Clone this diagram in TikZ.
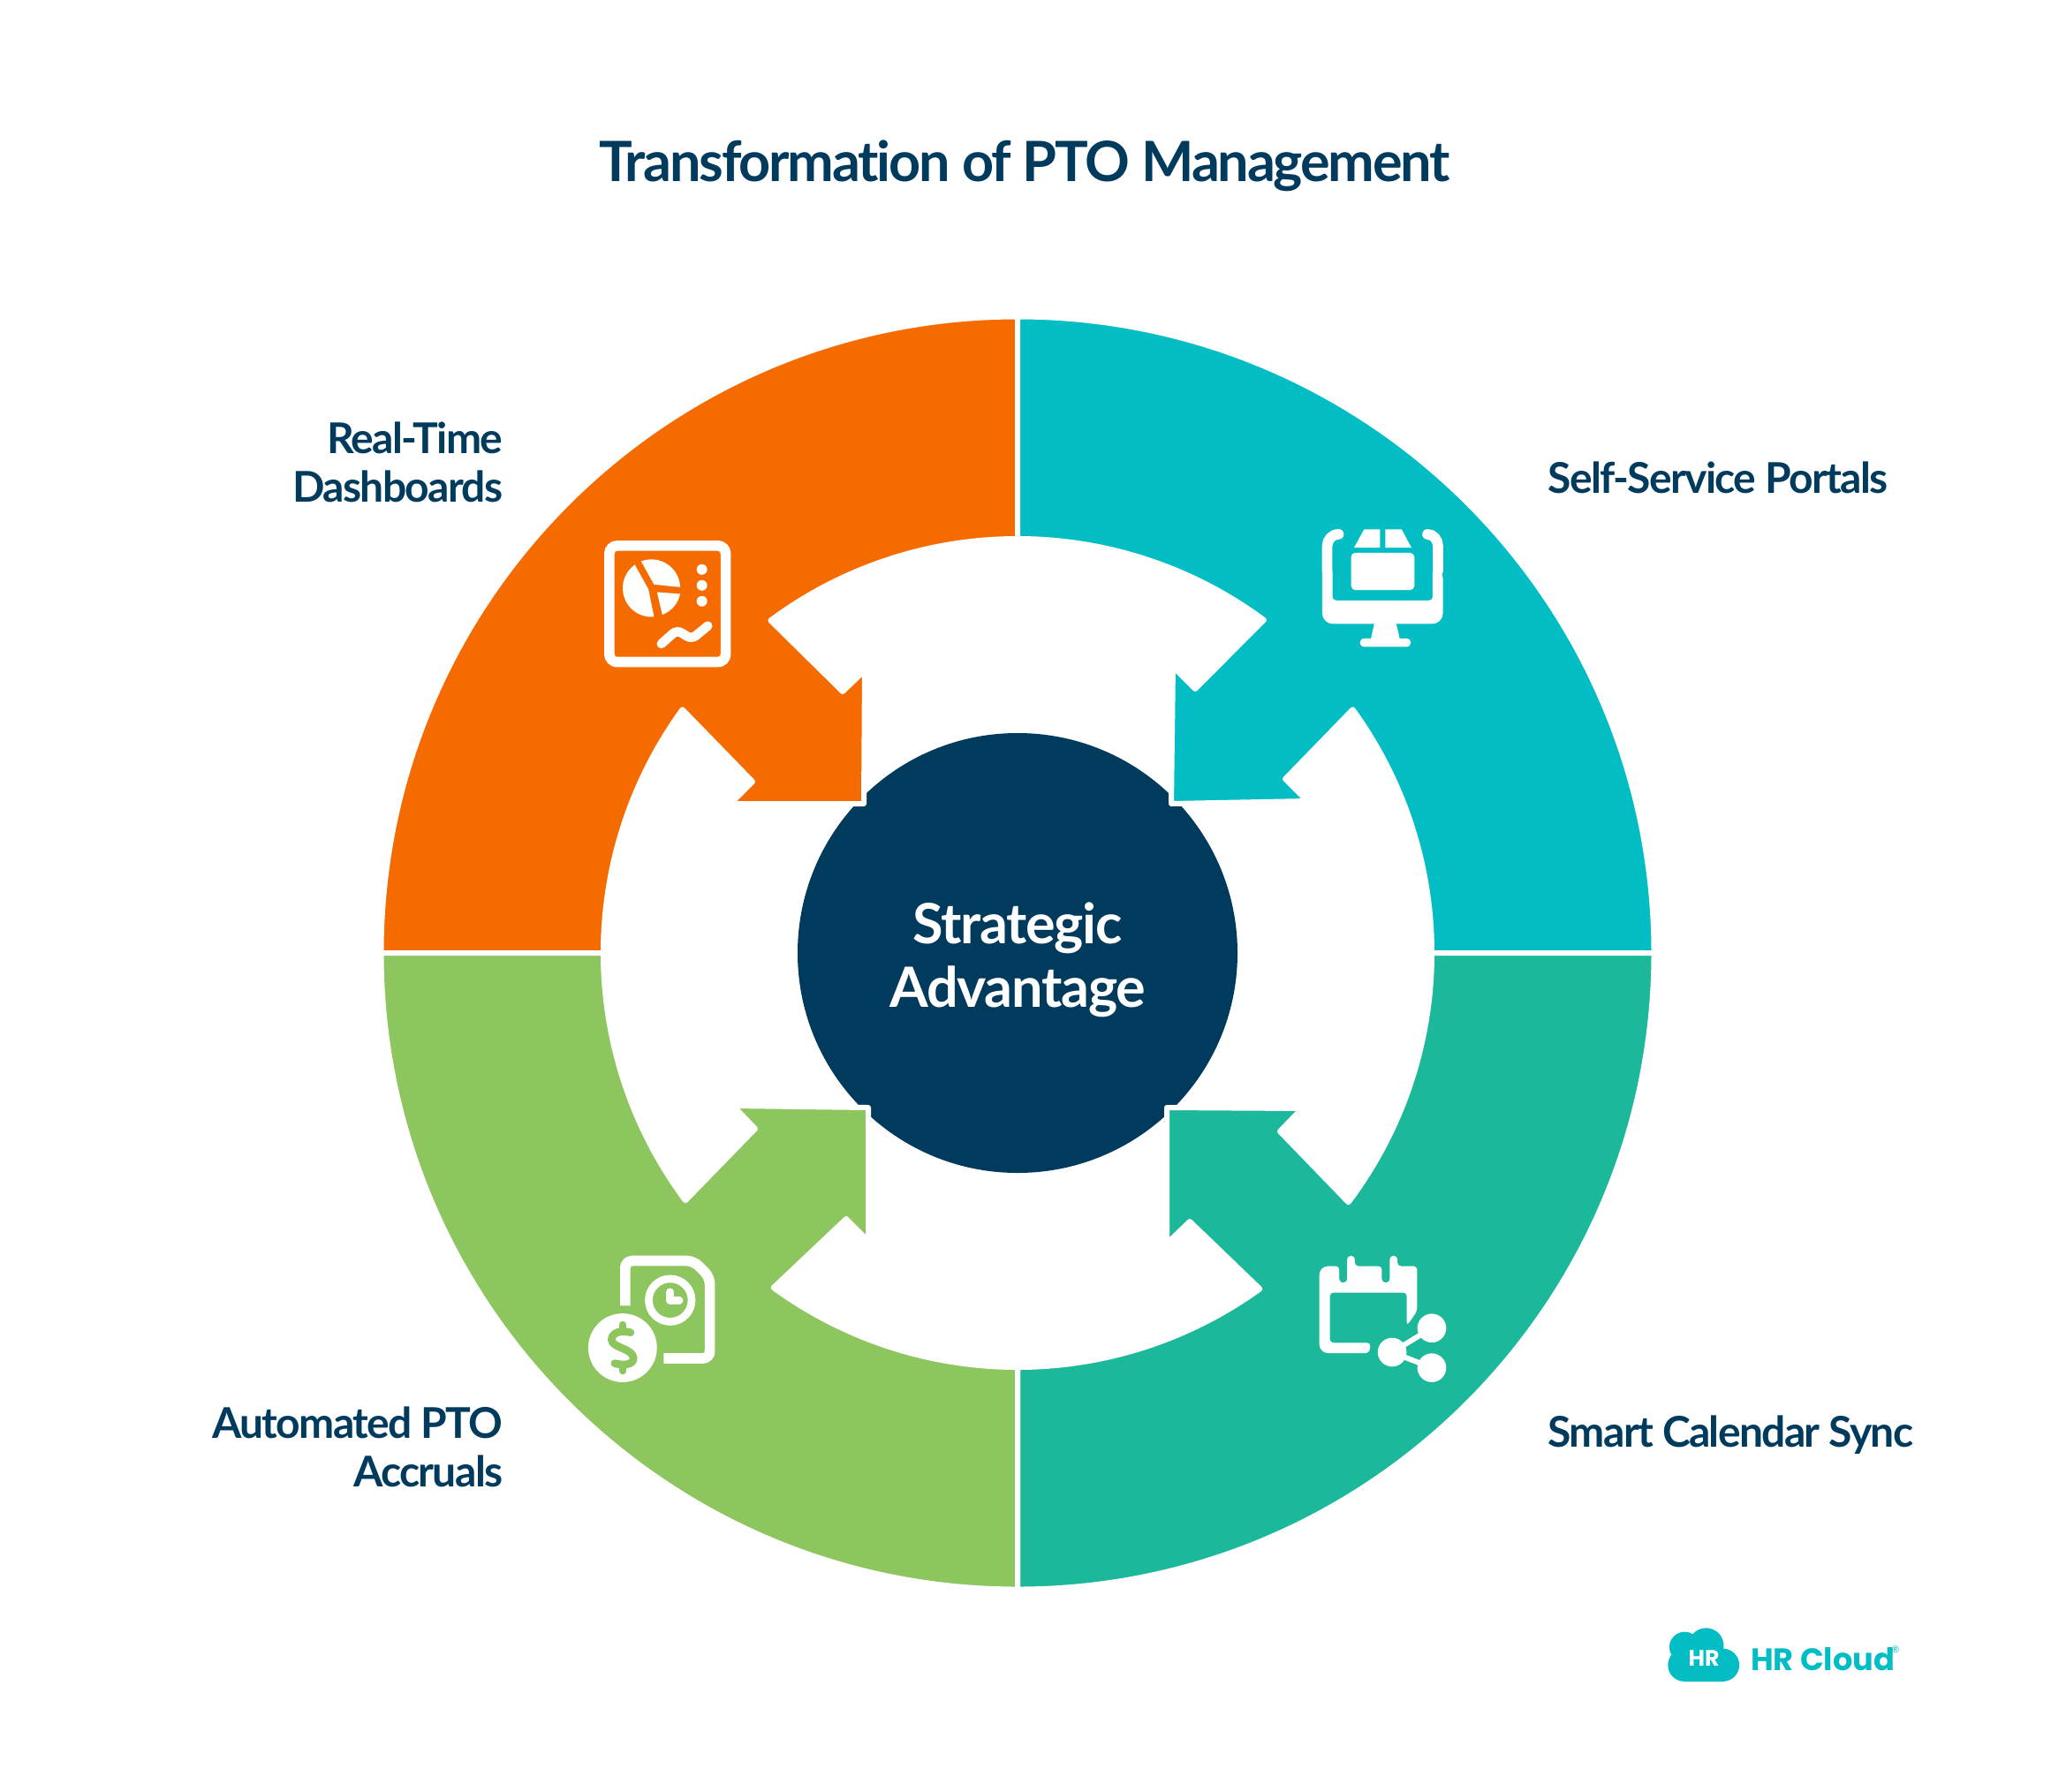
\documentclass[tikz,border=0pt]{standalone}
\usepackage{fontspec}
\setmainfont{Lato}[LetterSpace=-3.5, Ligatures=CommonOff]
\newfontfamily\hubfont{Lato}[LetterSpace=-2, Ligatures=CommonOff]
\newfontfamily\logofont{Poppins}
\usepackage{xcolor}
\definecolor{navy}{HTML}{003A5D}
\definecolor{pumpkin}{HTML}{F66B00}
\definecolor{lagoon}{HTML}{02BEC4}
\definecolor{jade}{HTML}{1CB89C}
\definecolor{leaf}{HTML}{8DC55F}
\tikzset{
    quadrant/.style={draw=white, line width=0.6mm, line join=round},
    labeltext/.style={text=navy, inner sep=0pt, font=\fontsize{13.65}{15.6}\selectfont\bfseries},
    zoomgrid/.style={x=0.003333cm, y=-0.003333cm},
    iconline/.style={draw=white, line width=1.17mm},
}
\begin{document}
\begin{tikzpicture}
    \useasboundingbox (-11.52,-9.49) rectangle (11.70,10.79);

    \node[circle, fill=navy, minimum size=4.98cm, inner sep=0pt] (hub) at (0,0) {};
    \node[text=white, inner sep=0pt, align=center,
        font=\hubfont\fontsize{17.9}{20.5}\selectfont\bfseries] (hubtext) at (0,-0.08) {Strategic\\Advantage};

    % dashboards quadrant
    \fill[pumpkin, quadrant] (90:4.69) arc[start angle=90, end angle=126.6, radius=4.69]
        -- (-1.98,2.96) -- (-1.73,3.20) -- (-1.74,1.69) -- (-3.25,1.69) -- (-3.00,1.94)
        -- (144:4.69) arc[start angle=144, end angle=180, radius=4.69]
        -- (180:7.205) arc[start angle=180, end angle=90, radius=7.205] -- cycle;

    % portals quadrant
    \fill[lagoon, quadrant] (90:4.69) arc[start angle=90, end angle=53.5, radius=4.69]
        -- (2.01,2.99) -- (1.76,3.24) -- (1.74,1.69) -- (3.28,1.72) -- (3.03,1.97)
        -- (36:4.69) arc[start angle=36, end angle=0, radius=4.69]
        -- (0:7.205) arc[start angle=0, end angle=90, radius=7.205] -- cycle;

    % calendar quadrant
    \fill[jade, quadrant] (0:4.69) arc[start angle=0, end angle=-37, radius=4.69]
        -- (2.97,-2.02) -- (3.22,-1.76) -- (1.69,-1.75) -- (1.69,-3.29) -- (1.95,-3.04)
        -- (-54.2:4.69) arc[start angle=-54.2, end angle=-90, radius=4.69]
        -- (-90:7.205) arc[start angle=-90, end angle=0, radius=7.205] -- cycle;

    % accruals quadrant
    \fill[leaf, quadrant] (180:4.69) arc[start angle=180, end angle=216.7, radius=4.69]
        -- (-2.97,-1.99) -- (-3.22,-1.73) -- (-1.69,-1.75) -- (-1.69,-3.26) -- (-1.94,-3.01)
        -- (233.9:4.69) arc[start angle=233.9, end angle=270, radius=4.69]
        -- (270:7.205) arc[start angle=270, end angle=180, radius=7.205] -- cycle;

    % dashboard icon
    \begin{scope}[shift={(-5.12,5.19)}, zoomgrid]
        \draw[iconline, rounded corners=0.9mm] (150,174) rectangle (546,570);
        \fill[white] (236,238) -- (283,322) -- (302,416) arc[start angle=85, end angle=234, radius=98] -- cycle;
        \fill[white] (258,227) arc[start angle=249, end angle=358, radius=98] -- (302,306) -- cycle;
        \fill[white] (312,332) -- (391,338) arc[start angle=12, end angle=69, radius=98] -- cycle;
        \foreach \y in {255,309,363} {
            \fill[white] (465,\y) circle (18);
        }
        \draw[iconline, line width=1.05mm, line cap=round, rounded corners=0.6mm]
            (327,508) -- (380,461) -- (430,492) -- (485,447);
    \end{scope}

    % monitor icon
    \begin{scope}[shift={(1.48,5.19)}, zoomgrid]
        \draw[iconline, line cap=round] (648,135) to[out=180, in=90] (609,175) -- (609,260);
        \draw[iconline, line cap=round] (950,135) to[out=0, in=90] (986,175) -- (986,260);
        \fill[white, rounded corners=1.2mm] (592,250) -- (592,440) -- (1003,440) -- (1003,250)
            [rounded corners=0.4mm] -- (968,250) -- (968,360) -- (627,360) -- (627,250) -- cycle;
        \fill[white] (770,435) -- (757,495) -- (857,495) -- (843,435) -- cycle;
        \fill[white, rounded corners=0.4mm] (721,490) rectangle (893,518);
        \fill[white, rounded corners=0.5mm] (690,198) rectangle (906,325);
        \fill[white] (700,181) -- (735,118) -- (789,118) -- (789,181) -- cycle;
        \fill[white] (807,181) -- (807,118) -- (862,118) -- (896,181) -- cycle;
    \end{scope}

    % calendar icon
    \begin{scope}[shift={(1.48,-1.51)}, zoomgrid]
        \fill[white, rounded corners=0.4mm] (582,612) -- (650,612) -- (650,668) -- (677,668)
            -- (677,577) -- (703,577) -- (703,612) -- (795,612) -- (795,668) -- (822,668)
            -- (822,577) -- (848,577) -- (848,612) -- (915,612) -- (915,765) -- (880,815)
            -- (880,702) -- (618,702) -- (618,873) -- (757,873) -- (752,908)
            [rounded corners=1mm] -- (582,908) -- cycle;
        \fill[white] (965,823) circle (49) (830,905) circle (49) (965,958) circle (49);
        \draw[iconline, line width=0.6mm] (965,823) -- (830,905) -- (965,958);
    \end{scope}

    % accrual icon
    \begin{scope}[shift={(-5.12,-1.51)}, zoomgrid]
        \draw[iconline, rounded corners=0.8mm] (204,747) -- (204,594) -- (437,594) -- (492,650)
            -- (492,926) -- (335,926);
        \draw[iconline, line width=0.87mm] (357,728) circle (73);
        \draw[iconline, line width=0.87mm, line cap=round, line join=round]
            (357,700) -- (357,728) -- (388,728);
        \fill[white] (195,890) circle (117);
        \draw[leaf, line width=0.87mm, line cap=round]
            (222,838) .. controls (175,825) and (150,850) .. (160,870)
            .. controls (170,890) and (230,895) .. (232,925)
            .. controls (232,950) and (195,950) .. (168,943);
        \draw[leaf, line width=0.87mm, line cap=round] (195,812) -- (195,835);
        \draw[leaf, line width=0.87mm, line cap=round] (195,950) -- (195,968);
    \end{scope}

    \node[text=navy, inner sep=0pt, font=\fontsize{17.9}{20}\selectfont\bfseries] (title) at (0.08,8.91)
        {Transformation of PTO Management};

    \node[labeltext, anchor=east, align=right] (dashboards) at (-5.82,5.56) {Real-Time\\Dashboards};
    \node[labeltext, anchor=west] (portals) at (6.00,5.385) {Self-Service Portals};
    \node[labeltext, anchor=west] (calendar) at (6.00,-5.46) {Smart Calendar Sync};
    \node[labeltext, anchor=east, align=right] (accruals) at (-5.82,-5.59) {Automated PTO\\Accruals};

    % logo
    \begin{scope}[shift={(7.08,-7.41)}, zoomgrid]
        \fill[lagoon] (142,135) circle (52) (215,130) circle (60) (141,196) circle (56)
            (272,196) circle (56);
        \fill[lagoon] (141,160) rectangle (272,252);
        \node[text=white, inner sep=0pt, font=\logofont\fontsize{7.2}{8}\selectfont\bfseries] (cloudtext) at (208,173) {HR};
        \node[text=lagoon, anchor=west, inner sep=0pt, font=\logofont\fontsize{10}{12}\selectfont\bfseries] (logotext) at (365,175) {HR Cloud};
        \node[text=lagoon, inner sep=0pt, font=\fontsize{3}{4}\selectfont] (regmark) at (860,143) {®};
    \end{scope}
\end{tikzpicture}
\end{document}
